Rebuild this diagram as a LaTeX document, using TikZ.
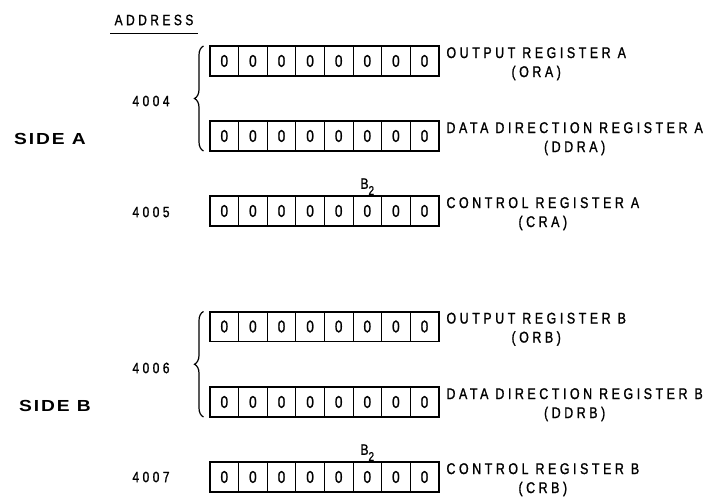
\documentclass[tikz,border=0pt]{standalone}
\usepackage{fontspec}
\setmainfont{Liberation Sans}
\newfontfamily\lblfont[LetterSpace=23,FakeStretch=0.8,FakeBold=1.2]{Liberation Sans}
\newfontfamily\sidefont[LetterSpace=12,FakeStretch=1.2]{Liberation Sans}
\usetikzlibrary{positioning,decorations.pathreplacing}

\begin{document}
\begin{tikzpicture}[x=1pt, y=-1pt,
  cell/.style={draw, line width=1pt, minimum width=28.6pt, minimum height=29pt,
    inner sep=0pt, font=\lblfont\fontsize{17}{17}\selectfont},
  regname/.style={anchor=north west, align=center, inner sep=0pt,
    font=\lblfont\fontsize{15.5}{19}\selectfont},
  addr/.style={font=\lblfont\fontsize{15}{15}\selectfont},
  side/.style={font=\sidefont\bfseries\fontsize{16}{16}\selectfont},
  brace/.style={decorate, decoration={brace, amplitude=9pt}, line width=1.2pt}]
  \useasboundingbox (0,0) rectangle (707,497);
  % registers, eight bits each
  \foreach \reg/\ypos in {ora/61, ddra/136, cra/211, orb/326.5, ddrb/402, crb/477}{
    \foreach \i in {0,...,7}
      \node[cell] (\reg-\i) at ({224.3+28.6*\i},\ypos) {0};
    \draw[line width=1.6pt] (\reg-0.north west) rectangle (\reg-7.south east);
  }
  \node[regname] (ora-lbl) at ([xshift=7pt,yshift=-1pt]ora-7.north east) {OUTPUT REGISTER A\\(ORA)};
  \node[regname] (ddra-lbl) at ([xshift=7pt,yshift=-1pt]ddra-7.north east) {DATA DIRECTION REGISTER A\\(DDRA)};
  \node[regname] (cra-lbl) at ([xshift=7pt,yshift=-1pt]cra-7.north east) {CONTROL REGISTER A\\(CRA)};
  \node[regname] (orb-lbl) at ([xshift=7pt,yshift=-1pt]orb-7.north east) {OUTPUT REGISTER B\\(ORB)};
  \node[regname] (ddrb-lbl) at ([xshift=7pt,yshift=-1pt]ddrb-7.north east) {DATA DIRECTION REGISTER B\\(DDRB)};
  \node[regname] (crb-lbl) at ([xshift=7pt,yshift=-1pt]crb-7.north east) {CONTROL REGISTER B\\(CRB)};
  % bit 2 marks
  \node[addr, above=1pt of cra-5, inner sep=0pt] (cra-bit) {B\raisebox{-6pt}{\fontsize{12.5}{12.5}\selectfont 2}};
  \node[addr, above=1pt of crb-5, inner sep=0pt] (crb-bit) {B\raisebox{-6pt}{\fontsize{12.5}{12.5}\selectfont 2}};
  % braces
  \draw[brace] ([xshift=-6pt]ddra-0.south west) -- ([xshift=-6pt]ora-0.north west);
  \draw[brace] ([xshift=-6pt]ddrb-0.south west) -- ([xshift=-6pt]orb-0.north west);
  % addresses
  \node[addr, inner xsep=4pt, inner ysep=3pt] (addr-head) at (154,20) {ADDRESS};
  \draw[line width=1.5pt] ([yshift=-5pt]addr-head.south west) -- ([yshift=-5pt]addr-head.south east);
  \node[addr] (addr-a) at (151,101) {4004};
  \node[addr] (addr-cra) at (151,212) {4005};
  \node[addr] (addr-b) at (151,368) {4006};
  \node[addr] (addr-crb) at (151,477) {4007};
  \node[side] (side-a) at (50,139) {SIDE A};
  \node[side] (side-b) at (55,406) {SIDE B};
\end{tikzpicture}
\end{document}
